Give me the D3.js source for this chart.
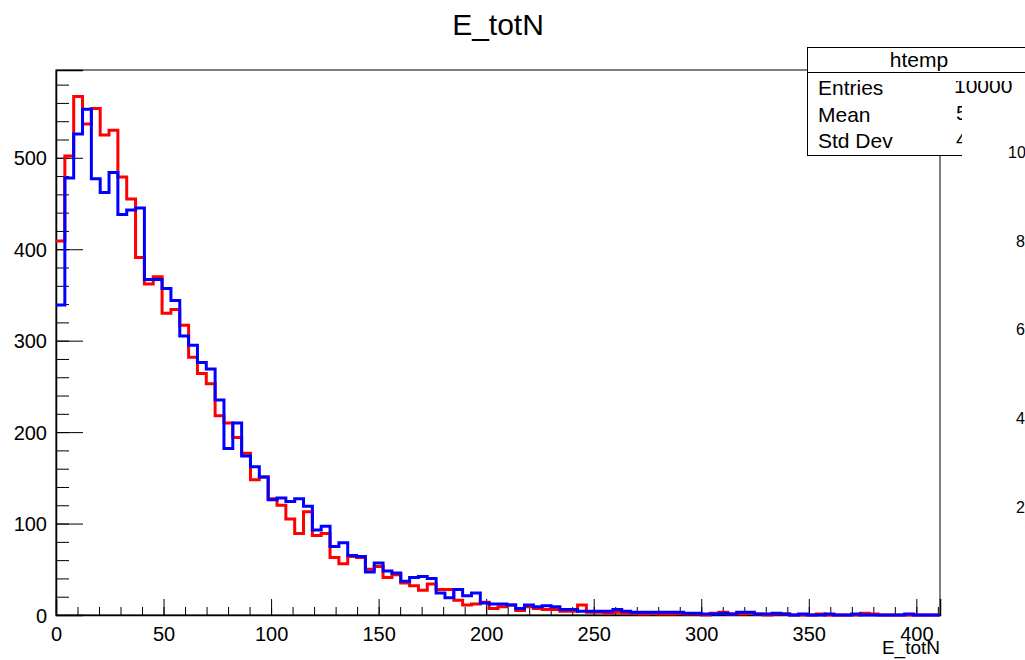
<!DOCTYPE html>
<html lang="en">
<head>
  <meta charset="UTF-8">
  <title>E_totN</title>
  <script src="https://d3js.org/d3.v7.min.js"></script>
  <style>
    body { margin: 0; background: #fff; }
    svg { display: block; font-family: "Liberation Sans", Arial, sans-serif; }
  </style>
</head>
<body>
  <svg width="1025" height="660"></svg>

  <script>
    // histogram: 100 bins on [0, xMax]
    const nBins = 100;
    const xMax = 411;

    const redCounts = [
      409, 502, 567, 537, 554, 525, 530, 479, 455, 391,
      362, 370, 330, 334, 317, 282, 264, 253, 218, 210,
      194, 177, 148, 151, 127, 120, 105, 89, 113, 87,
      89, 63, 56, 64, 63, 50, 53, 41, 44, 35,
      32, 27, 34, 28, 28, 16, 11, 12, 14, 7,
      9, 11, 5, 9, 7, 6, 6, 4, 4, 11,
      3, 3, 2, 3, 2, 2, 1, 2, 1, 1,
      2, 1, 1, 0, 2, 3, 1, 1, 2, 1,
      0, 1, 1, 0, 0, 0, 1, 0, 0, 0,
      0, 2, 1, 0, 0, 0, 0, 0, 0, 0
    ];

    const blueCounts = [
      339, 478, 526, 553, 477, 462, 484, 438, 443, 445,
      367, 367, 357, 344, 305, 295, 276, 269, 235, 182,
      210, 174, 162, 151, 126, 128, 124, 127, 119, 93,
      97, 75, 79, 65, 64, 47, 57, 48, 46, 37,
      41, 42, 40, 24, 19, 28, 21, 24, 13, 12,
      12, 11, 7, 11, 9, 10, 9, 6, 6, 4,
      4, 4, 4, 6, 4, 3, 3, 3, 3, 3,
      3, 2, 2, 1, 1, 2, 1, 3, 3, 1,
      1, 2, 1, 0, 1, 0, 0, 1, 0, 0,
      1, 0, 0, 0, 0, 0, 1, 0, 0, 0
    ];

    const xMajorTicks = [0, 50, 100, 150, 200, 250, 300, 350, 400];
    const yMajorTicks = [0, 100, 200, 300, 400, 500];
    const yMax = 596;

    const statLabels = ["Entries", "Mean", "Std Dev"];
    const statValues = ["10000", "55.47", "46.12"];
    const sideLabels = ["1000", "800", "600", "400", "200"];

    const frame = { left: 56, right: 940, top: 70, bottom: 615 };

    const svg = d3.select("svg");

    const x = d3.scaleLinear().domain([0, xMax]).range([frame.left, frame.right]);
    const y = d3.scaleLinear().domain([0, yMax]).range([frame.bottom, frame.top]);

    const binW = xMax / nBins;
    const xMinor = d3.range(0, xMax, 10);
    const yMinor = d3.range(0, yMax, 20);

    // title
    svg.append("text")
      .attr("x", 498).attr("y", 35)
      .attr("text-anchor", "middle")
      .attr("font-size", 30)
      .text("E_totN");

    // frame
    svg.append("rect")
      .attr("x", frame.left).attr("y", frame.top)
      .attr("width", frame.right - frame.left)
      .attr("height", frame.bottom - frame.top)
      .attr("fill", "none").attr("stroke", "#000").attr("stroke-width", 1);

    // x axis: minor + major ticks pointing up
    svg.append("g")
      .attr("transform", `translate(0,${frame.bottom})`)
      .call(d3.axisBottom(x).tickValues(xMinor).tickSize(-8).tickFormat(""))
      .call(g => g.select(".domain").remove());

    const xAxis = svg.append("g")
      .attr("transform", `translate(0,${frame.bottom})`)
      .call(d3.axisBottom(x).tickValues(xMajorTicks).tickSize(-16).tickFormat(d3.format("d")));
    xAxis.select(".domain").attr("stroke-width", 1.5);
    xAxis.selectAll("text")
      .attr("y", 26).attr("dy", 0)
      .attr("font-size", 20).attr("fill", "#000");

    // y axis
    svg.append("g")
      .attr("transform", `translate(${frame.left},0)`)
      .call(d3.axisLeft(y).tickValues(yMinor).tickSize(-13).tickFormat(""))
      .call(g => g.select(".domain").remove());

    const yAxis = svg.append("g")
      .attr("transform", `translate(${frame.left},0)`)
      .call(d3.axisLeft(y).tickValues(yMajorTicks).tickSize(-27).tickFormat(d3.format("d")));
    yAxis.select(".domain").attr("stroke-width", 1.5);
    yAxis.selectAll("text")
      .attr("x", -9).attr("dy", "0.36em")
      .attr("font-size", 20).attr("fill", "#000");

    // x axis title
    svg.append("text")
      .attr("x", frame.right).attr("y", 654)
      .attr("text-anchor", "end")
      .attr("font-size", 19)
      .text("E_totN");

    // histogram outlines
    function stepPoints(counts) {
      const pts = counts.map((c, i) => [i * binW, c]);
      pts.push([nBins * binW, counts[counts.length - 1]]);
      return pts;
    }

    const line = d3.line()
      .x(d => x(d[0]))
      .y(d => y(d[1]))
      .curve(d3.curveStepAfter);

    svg.append("path")
      .attr("d", line(stepPoints(redCounts)))
      .attr("fill", "none").attr("stroke", "#ff0000").attr("stroke-width", 3);

    svg.append("path")
      .attr("d", line(stepPoints(blueCounts)))
      .attr("fill", "none").attr("stroke", "#0000ff").attr("stroke-width", 3);

    // stats box
    const box = svg.append("g");
    box.append("rect")
      .attr("x", 807.5).attr("y", 47.5)
      .attr("width", 260).attr("height", 108)
      .attr("fill", "#fff").attr("stroke", "#000").attr("stroke-width", 1);
    box.append("line")
      .attr("x1", 807.5).attr("x2", 1025)
      .attr("y1", 72.5).attr("y2", 72.5)
      .attr("stroke", "#000");
    box.append("text")
      .attr("x", 919).attr("y", 67)
      .attr("text-anchor", "middle")
      .attr("font-size", 21)
      .text("htemp");

    statLabels.forEach((s, i) => {
      box.append("text")
        .attr("x", 818).attr("y", 95 + i * 26.5)
        .attr("font-size", 21)
        .text(s);
      box.append("text")
        .attr("x", i === 0 ? 954 : 956).attr("y", 93 + i * 26.5)
        .attr("font-size", 21)
        .text(statValues[i]);
    });

    // overlapping blank area on the right edge
    svg.append("rect")
      .attr("x", 945).attr("y", 73).attr("width", 80).attr("height", 8)
      .attr("fill", "#fff");
    svg.append("rect")
      .attr("x", 962).attr("y", 98).attr("width", 63).attr("height", 562)
      .attr("fill", "#fff");
    svg.append("line")
      .attr("x1", 940).attr("x2", 962)
      .attr("y1", 155.5).attr("y2", 155.5)
      .attr("stroke", "#000");

    sideLabels.forEach((s, i) => {
      svg.append("text")
        .attr("x", i === 0 ? 1008 : 1016)
        .attr("y", 158 + i * 88.7)
        .attr("font-size", 16)
        .text(s);
    });
  </script>
</body>
</html>
